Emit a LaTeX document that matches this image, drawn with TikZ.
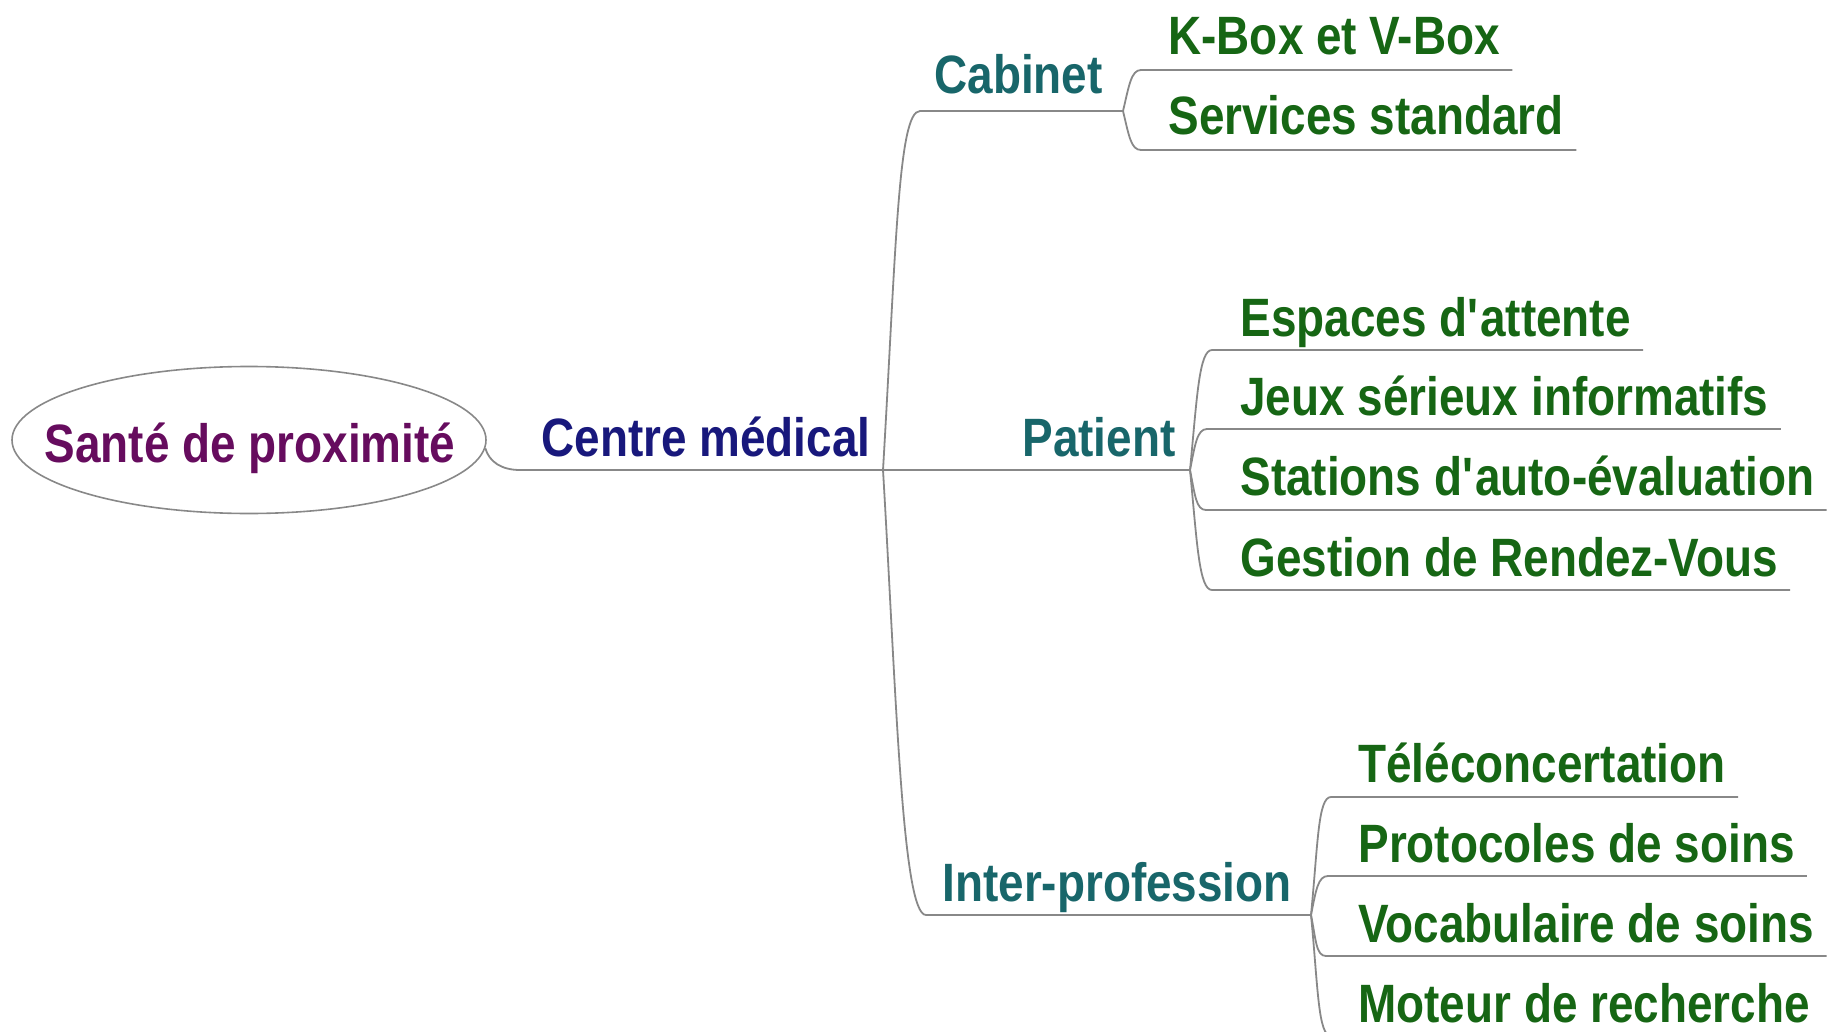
\documentclass[tikz,border=0pt]{standalone}
\usepackage{fontspec}
\setmainfont{Liberation Sans}[FakeStretch=0.85]
\usetikzlibrary{calc, positioning, shapes.geometric}

\definecolor{rootcol}{RGB}{102,12,94}
\definecolor{maincol}{RGB}{24,24,124}
\definecolor{subcol}{RGB}{24,102,106}
\definecolor{leafcol}{RGB}{22,102,20}
\definecolor{linecol}{RGB}{136,136,136}

\tikzset{
  txt/.style={inner sep=0pt, anchor=base west, font=\fontsize{27}{32}\selectfont\bfseries},
  root/.style={ellipse, draw=linecol, line width=0.8pt, minimum width=237pt, minimum height=73.5pt, inner sep=0pt},
  roottxt/.style={txt, anchor=base, text=rootcol},
  main/.style={txt, text=maincol},
  sub/.style={txt, text=subcol},
  leaf/.style={txt, text=leafcol},
  branch/.style={draw=linecol, line width=0.9pt},
}

\begin{document}
\begin{tikzpicture}[x=0.5pt, y=-0.5pt]
  \useasboundingbox (0,0) rectangle (1835,1032);

  % root and main topic
  \node[root] (sante) at (249,440) {};
  \node[roottxt] (sante-txt) at (250,462) {Santé de proximité};
  \node[main] (centre) at (541,456) {Centre médical};

  % second level
  \node[sub] (cabinet) at (934,94) {Cabinet};
  \node[sub] (patient) at (1022,456) {Patient};
  \node[sub] (inter) at (942,901) {Inter-profession};

  % leaves
  \node[leaf] (kbox) at (1168,55) {K-Box et V-Box};
  \node[leaf] (services) at (1168,135) {Services standard};

  \node[leaf] (espaces) at (1240,336) {Espaces d\textquotesingle attente};
  \node[leaf] (jeux) at (1240,415) {Jeux sérieux informatifs};
  \node[leaf] (stations) at (1240,495) {Stations d\textquotesingle auto-évaluation};
  \node[leaf] (gestion) at (1240,576) {Gestion de Rendez-Vous};

  \node[leaf] (tele) at (1358,782) {Téléconcertation};
  \node[leaf] (proto) at (1358,862) {Protocoles de soins};
  \node[leaf] (voca) at (1358,942) {Vocabulaire de soins};
  \node[leaf] (moteur) at (1358,1022) {Moteur de recherche};

  % line ends
  \coordinate (centre-l) at (520,470);
  \coordinate (hub) at (883,470);
  \coordinate (cabinet-l) at (920,111);
  \coordinate (cabinet-r) at (1123,111);
  \coordinate (patient-r) at (1190,470);
  \coordinate (inter-l) at (926,915);
  \coordinate (inter-r) at (1311,915);

  \coordinate (kbox-l) at (1141,70);
  \coordinate (services-l) at (1141,150);
  \coordinate (espaces-l) at (1212,350);
  \coordinate (jeux-l) at (1207,429);
  \coordinate (stations-l) at (1206,510);
  \coordinate (gestion-l) at (1212,590);
  \coordinate (tele-l) at (1331,797);
  \coordinate (proto-l) at (1328,876);
  \coordinate (voca-l) at (1326,956);
  \coordinate (moteur-l) at (1331,1036);

  % trunk
  \draw[branch] (sante.-2) .. controls +(4,14) and +(-18,0) .. (centre-l) -- (hub) -- (patient-r);
  \draw[branch] (hub) .. controls +(13,-220) and +(-22,0) .. (cabinet-l) -- (cabinet-r);
  \draw[branch] (hub) .. controls +(13,220) and +(-24,0) .. (inter-l) -- (inter-r);

  % Cabinet
  \draw[branch] (cabinet-r) .. controls +(6,-25) and +(-10,0) .. (kbox-l) -- ($(kbox.east |- kbox-l)+(12,0)$);
  \draw[branch] (cabinet-r) .. controls +(6,25) and +(-10,0) .. (services-l) -- ($(services.east |- services-l)+(12,0)$);

  % Patient
  \draw[branch] (patient-r) .. controls +(7,-72) and +(-13,0) .. (espaces-l) -- ($(espaces.east |- espaces-l)+(12,0)$);
  \draw[branch] (patient-r) .. controls +(5,-25) and +(-10,0) .. (jeux-l) -- ($(jeux.east |- jeux-l)+(12,0)$);
  \draw[branch] (patient-r) .. controls +(5,25) and +(-10,0) .. (stations-l) -- ($(stations.east |- stations-l)+(12,0)$);
  \draw[branch] (patient-r) .. controls +(7,72) and +(-13,0) .. (gestion-l) -- ($(gestion.east |- gestion-l)+(12,0)$);

  % Inter-profession
  \draw[branch] (inter-r) .. controls +(7,-72) and +(-13,0) .. (tele-l) -- ($(tele.east |- tele-l)+(12,0)$);
  \draw[branch] (inter-r) .. controls +(5,-25) and +(-10,0) .. (proto-l) -- ($(proto.east |- proto-l)+(12,0)$);
  \draw[branch] (inter-r) .. controls +(5,25) and +(-10,0) .. (voca-l) -- ($(voca.east |- voca-l)+(12,0)$);
  \draw[branch] (inter-r) .. controls +(7,72) and +(-13,0) .. (moteur-l) -- ($(moteur.east |- moteur-l)+(12,0)$);
\end{tikzpicture}
\end{document}
